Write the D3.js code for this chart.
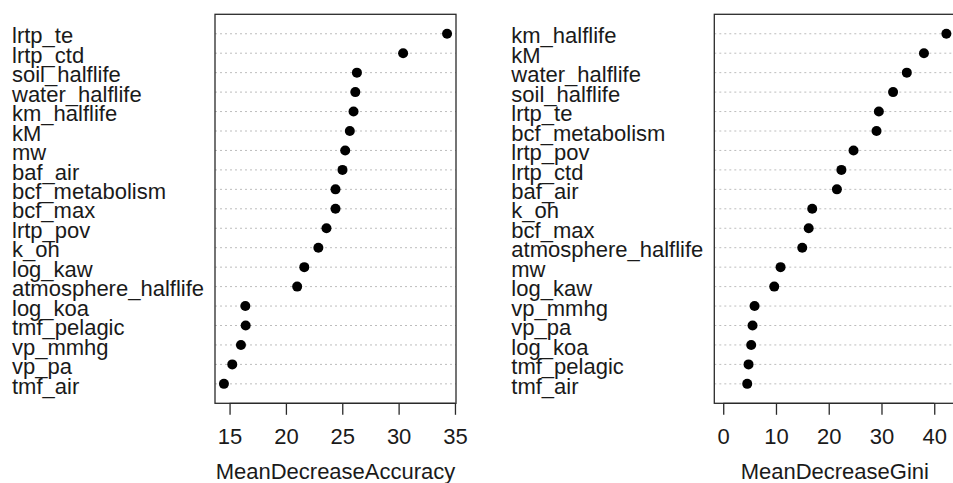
<!DOCTYPE html>
<html>
<head>
<meta charset="utf-8">
<script src="https://cdn.jsdelivr.net/npm/d3@7"></script>
<style>
  html, body { margin: 0; padding: 0; background: #fff; }
  svg { display: block; }
  text { font-family: "Liberation Sans", Arial, Helvetica, sans-serif; fill: #1a1a1a; }
</style>
</head>
<body>
<svg id="chart" width="953" height="483"></svg>
<script>
// Variable importance from a random forest, two measures, each sorted high to low.
const accuracyVars = ["lrtp_te", "lrtp_ctd", "soil_halflife", "water_halflife", "km_halflife",
  "kM", "mw", "baf_air", "bcf_metabolism", "bcf_max", "lrtp_pov", "k_oh", "log_kaw",
  "atmosphere_halflife", "log_koa", "tmf_pelagic", "vp_mmhg", "vp_pa", "tmf_air"];
const accuracyValues = [34.3, 30.4, 26.3, 26.16, 26.0, 25.67, 25.26, 25.02, 24.4, 24.4,
  23.6, 22.88, 21.63, 21.0, 16.4, 16.43, 16.01, 15.24, 14.5];

const giniVars = ["km_halflife", "kM", "water_halflife", "soil_halflife", "lrtp_te",
  "bcf_metabolism", "lrtp_pov", "lrtp_ctd", "baf_air", "k_oh", "bcf_max",
  "atmosphere_halflife", "mw", "log_kaw", "vp_mmhg", "vp_pa", "log_koa", "tmf_pelagic", "tmf_air"];
const giniValues = [42.3, 38.05, 34.8, 32.2, 29.5, 29.06, 24.7, 22.4, 21.55, 16.87, 16.2,
  14.98, 10.87, 9.67, 5.94, 5.56, 5.3, 4.8, 4.55];

const accuracyTicks = [15, 20, 25, 30, 35];
const giniTicks = [0, 10, 20, 30, 40];

const svg = d3.select("#chart");
const FONT = 22;
const frameTop = 14.3, frameBottom = 403.3;

function dotPanel(opts) {
  const { vars, values, ticks, title, left, width, xmin } = opts;
  const n = vars.length;
  const lo = xmin === undefined ? d3.min(values) : xmin;
  const hi = d3.max(values);
  const pad = (hi - lo) * 0.04;
  const x = d3.scaleLinear().domain([lo - pad, hi + pad]).range([left, left + width]);
  const y = d3.scaleLinear().domain([0, n + 1]).range([frameBottom, frameTop]);
  const g = svg.append("g");

  // dotted guide lines for every row
  g.selectAll("line.guide").data(vars).join("line")
    .attr("class", "guide")
    .attr("x1", left).attr("x2", left + width)
    .attr("y1", (d, i) => y(n - i)).attr("y2", (d, i) => y(n - i))
    .attr("stroke", "#bdbdbd").attr("stroke-width", 1)
    .attr("stroke-dasharray", "2,3");

  // points
  g.selectAll("circle").data(values).join("circle")
    .attr("cx", d => x(d))
    .attr("cy", (d, i) => y(n - i))
    .attr("r", 5)
    .attr("fill", "#000");

  // row labels, left-aligned at a fixed offset from the frame
  g.selectAll("text.lab").data(vars).join("text")
    .attr("class", "lab")
    .attr("x", left - 203)
    .attr("y", (d, i) => y(n - i))
    .attr("dy", "0.44em")
    .style("font-size", FONT + "px")
    .text(d => d);

  // frame
  g.append("rect")
    .attr("x", left).attr("y", frameTop)
    .attr("width", width).attr("height", frameBottom - frameTop)
    .attr("fill", "none").attr("stroke", "#2a2a2a").attr("stroke-width", 1.3);

  // bottom axis
  const axis = d3.axisBottom(x).tickValues(ticks).tickSize(11.5).tickPadding(14).tickSizeOuter(0);
  const ag = g.append("g").attr("transform", `translate(0,${frameBottom})`).call(axis);
  ag.select(".domain")
    .attr("d", `M${x(ticks[0])},0H${x(ticks[ticks.length - 1])}`)
    .attr("stroke", "#2a2a2a").attr("stroke-width", 1.3);
  ag.selectAll(".tick line").attr("stroke", "#2a2a2a").attr("stroke-width", 1.3);
  ag.selectAll(".tick text")
    .style("font-size", FONT + "px")
    .style("font-family", '"Liberation Sans", Arial, sans-serif')
    .attr("fill", "#1a1a1a");

  g.append("text")
    .attr("x", left + width / 2)
    .attr("y", 479)
    .attr("text-anchor", "middle")
    .style("font-size", FONT + "px")
    .text(title);
}

dotPanel({ vars: accuracyVars, values: accuracyValues, ticks: accuracyTicks,
  title: "MeanDecreaseAccuracy", left: 215, width: 241 });
dotPanel({ vars: giniVars, values: giniValues, ticks: giniTicks,
  title: "MeanDecreaseGini", left: 714.3, width: 241, xmin: 0 });
</script>
</body>
</html>
